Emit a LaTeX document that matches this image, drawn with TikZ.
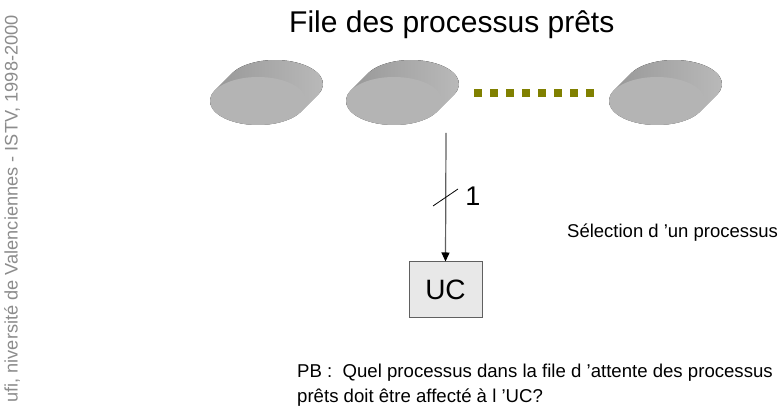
\documentclass[tikz,border=0pt]{standalone}
\usepackage{fontspec}
\setmainfont{Liberation Sans}
\usetikzlibrary{arrows.meta}
\definecolor{olivedot}{HTML}{808000}
\definecolor{sidedark}{HTML}{959595}
\definecolor{sidelight}{HTML}{BBBBBB}
\definecolor{diskface}{HTML}{B4B4B4}
\definecolor{boxfill}{HTML}{E8E8E8}
\definecolor{boxline}{HTML}{606060}
\definecolor{footgray}{HTML}{8C8C8C}
\tikzset{
  disk/.pic={
    \fill[left color=sidedark, right color=sidelight]
      (-42.93,10.73) -- ++(17,17)
      arc[start angle=153.43, end angle=-26.57, x radius=48, y radius=24]
      -- (42.93,-10.73)
      arc[start angle=-26.57, end angle=-206.57, x radius=48, y radius=24] -- cycle;
    \fill[diskface] (0,0) ellipse[x radius=48, y radius=24];
  },
  ucbox/.style={draw=boxline, line width=1pt, fill=boxfill, minimum width=73pt, minimum height=56pt, inner sep=0pt, font=\fontsize{28}{32}\selectfont},
  lbl/.style={inner sep=0pt, text=black},
}
\begin{document}
\begin{tikzpicture}[x=1pt,y=1pt]
\useasboundingbox (0,0) rectangle (782,411);
% footer vertical text
\node[lbl, text=footgray, rotate=90, anchor=east, font=\fontsize{18.2}{20}\selectfont] (foot) at (12,396) {ufi, niversité de Valenciennes - ISTV, 1998-2000};
% title
\node[lbl, anchor=base west, font=\fontsize{30}{34}\selectfont] (title) at (289,378) {File des processus prêts};
% disks
\pic at (258,310) {disk};
\pic at (394,310) {disk};
\pic at (657,310) {disk};
% dotted olive line
\draw[olivedot, line width=8pt, dash pattern=on 8pt off 8pt] (474,317.5) -- (599,317.5);
% UC box
\node[ucbox] (uc) at (445.5,121) {UC};
\coordinate (sel) at (446,278);
\draw[boxline, line width=1.2pt, -{Triangle[length=9pt,width=8pt,color=black]}] (sel) -- (uc.north);
\coordinate (s1) at (433,205);
\coordinate (s2) at (458,222);
\draw[black, line width=0.8pt] (s1) -- (s2);
\node[lbl, anchor=base, font=\fontsize{27}{30}\selectfont] (one) at (473,205) {1};
\node[lbl, anchor=base west, font=\fontsize{18.5}{22}\selectfont] (selec) at (567,173) {Sélection d ’un processus};
% bottom question
\node[lbl, anchor=base west, font=\fontsize{18.6}{22}\selectfont] (q1) at (297,33) {PB :\ \ Quel processus dans la file d ’attente des processus};
\node[lbl, anchor=base west, font=\fontsize{18.6}{22}\selectfont] (q2) at (297,8) {prêts doit être affecté à l ’UC?};
\end{tikzpicture}
\end{document}
